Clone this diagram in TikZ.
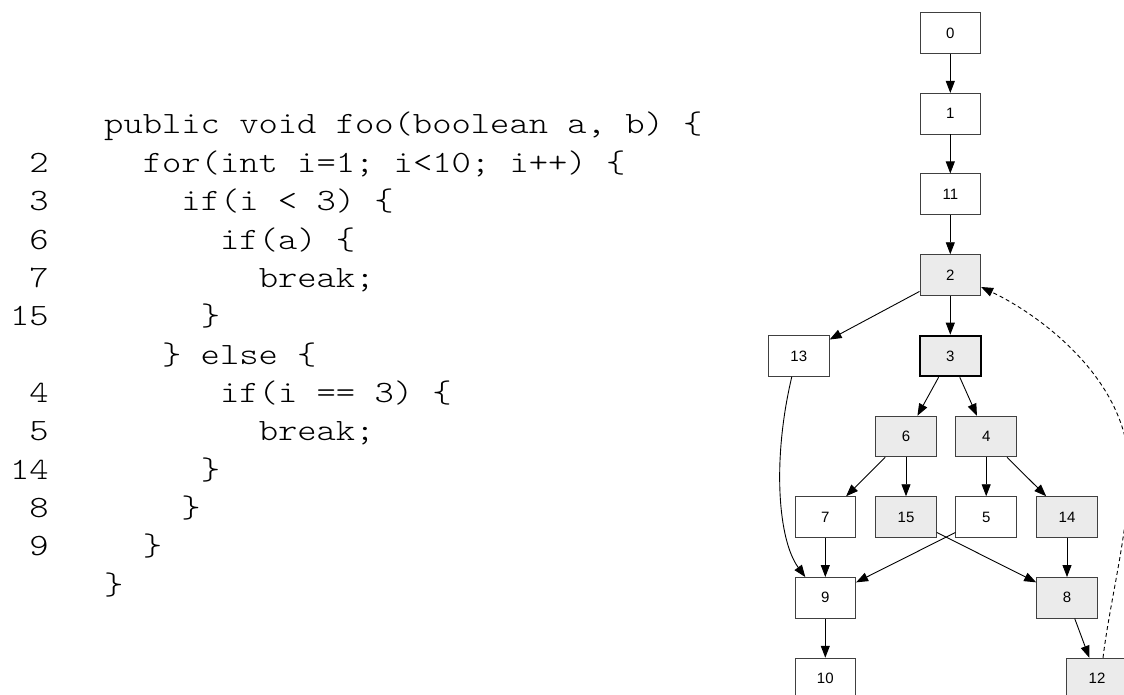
\documentclass[tikz,border=0pt]{standalone}
\usepackage{fontspec}
\setmonofont[FakeStretch=1.186]{lmmonolt10-regular.otf}
\setsansfont{Liberation Sans}
\usetikzlibrary{arrows.meta,calc}

\definecolor{nodegray}{RGB}{235,235,235}
\definecolor{framegray}{RGB}{64,64,64}

\tikzset{
  codeline/.style={anchor=base west, inner sep=0pt, font=\ttfamily\fontsize{31}{38.3}\selectfont},
  lineno/.style={anchor=base east, inner sep=0pt, font=\ttfamily\fontsize{31}{38.3}\selectfont},
  cfgbox/.style={draw=framegray, line width=0.9pt, fill=white, minimum width=60.7pt,
    minimum height=40.6pt, inner sep=0pt, font=\sffamily\fontsize{15}{15}\selectfont},
  shaded/.style={cfgbox, fill=nodegray},
  current/.style={shaded, draw=black, line width=2pt},
  flow/.style={line width=0.9pt, -{Triangle[length=12pt,width=9pt]}},
  backedge/.style={flow, dash pattern=on 4pt off 3pt}
}

\begin{document}
\begin{tikzpicture}[x=1pt, y=-1pt]
\useasboundingbox (0,0) rectangle (1124,695);
\clip (0,0) rectangle (1124,695);

% source listing: w = width of one character cell, ln = line pitch
\def\cx{104}
\def\w{19.32}
\def\ln{38.35}
\def\bl{134}

\node[codeline] (c0)  at (\cx+0*\w, \bl+0*\ln)  {public void foo(boolean a, b) \{};
\node[codeline] (c1)  at (\cx+2*\w, \bl+1*\ln)  {for(int i=1; i<10; i++) \{};
\node[codeline] (c2)  at (\cx+4*\w, \bl+2*\ln)  {if(i < 3) \{};
\node[codeline] (c3)  at (\cx+6*\w, \bl+3*\ln)  {if(a) \{};
\node[codeline] (c4)  at (\cx+8*\w, \bl+4*\ln)  {break;};
\node[codeline] (c5)  at (\cx+5*\w, \bl+5*\ln)  {\}};
\node[codeline] (c6)  at (\cx+3*\w, \bl+6*\ln)  {\} else \{};
\node[codeline] (c7)  at (\cx+6*\w, \bl+7*\ln)  {if(i == 3) \{};
\node[codeline] (c8)  at (\cx+8*\w, \bl+8*\ln)  {break;};
\node[codeline] (c9)  at (\cx+5*\w, \bl+9*\ln)  {\}};
\node[codeline] (c10) at (\cx+4*\w, \bl+10*\ln) {\}};
\node[codeline] (c11) at (\cx+2*\w, \bl+11*\ln) {\}};
\node[codeline] (c12) at (\cx+0*\w, \bl+12*\ln) {\}};

\node[lineno] (l1)  at (49, \bl+1*\ln)  {2};
\node[lineno] (l2)  at (49, \bl+2*\ln)  {3};
\node[lineno] (l3)  at (49, \bl+3*\ln)  {6};
\node[lineno] (l4)  at (49, \bl+4*\ln)  {7};
\node[lineno] (l5)  at (49, \bl+5*\ln)  {15};
\node[lineno] (l7)  at (49, \bl+7*\ln)  {4};
\node[lineno] (l8)  at (49, \bl+8*\ln)  {5};
\node[lineno] (l9)  at (49, \bl+9*\ln)  {14};
\node[lineno] (l10) at (49, \bl+10*\ln) {8};
\node[lineno] (l11) at (49, \bl+11*\ln) {9};

% control flow graph
\node[cfgbox]  (n0)  at (950.3,33)    {0};
\node[cfgbox]  (n1)  at (950.3,113.7) {1};
\node[cfgbox]  (n11) at (950.3,194.2) {11};
\node[shaded]  (n2)  at (950.3,275)   {2};
\node[current] (n3)  at (950.3,356)   {3};
\node[cfgbox]  (n13) at (798.8,356)   {13};
\node[shaded]  (n6)  at (906,436.5)   {6};
\node[shaded]  (n4)  at (986.2,436.5) {4};
\node[cfgbox]  (n7)  at (825.3,517)   {7};
\node[shaded]  (n15) at (906,517)     {15};
\node[cfgbox]  (n5)  at (986.2,517)   {5};
\node[shaded]  (n14) at (1067,517)    {14};
\node[cfgbox]  (n9)  at (825.3,597.8) {9};
\node[shaded]  (n8)  at (1067,597.8)  {8};
\node[cfgbox]  (n10) at (825.3,678.5) {10};
\node[shaded]  (n12) at (1097,678.5)  {12};

\draw[flow] (n0) -- (n1);
\draw[flow] (n1) -- (n11);
\draw[flow] (n11) -- (n2);
\draw[flow] (n2) -- (n13);
\draw[flow] (n2) -- (n3);
\draw[flow] (n3) -- (n6);
\draw[flow] (n3) -- (n4);
\draw[flow] (n6) -- (n7);
\draw[flow] (n6) -- (n15);
\draw[flow] (n4) -- (n5);
\draw[flow] (n4) -- (n14);
\draw[flow] (n7) -- (n9);
\draw[flow] (n5) -- (n9);
\draw[flow] (n15) -- (n8);
\draw[flow] (n14) -- (n8);
\draw[flow] (n9) -- (n10);
\draw[flow] (n8) -- (n12);
\draw[flow] ($(n13.south)+(-7,0)$) .. controls (772,460) and (778,540) .. ($(n9.north)+(-20,0)$);
\draw[backedge] ($(n12.north)+(6,0)$) .. controls (1110,600) and (1129,530) .. (1129,470)
  .. controls (1129,380) and (1040,315) .. ($(n2.east)+(0,12)$);
\end{tikzpicture}
\end{document}
